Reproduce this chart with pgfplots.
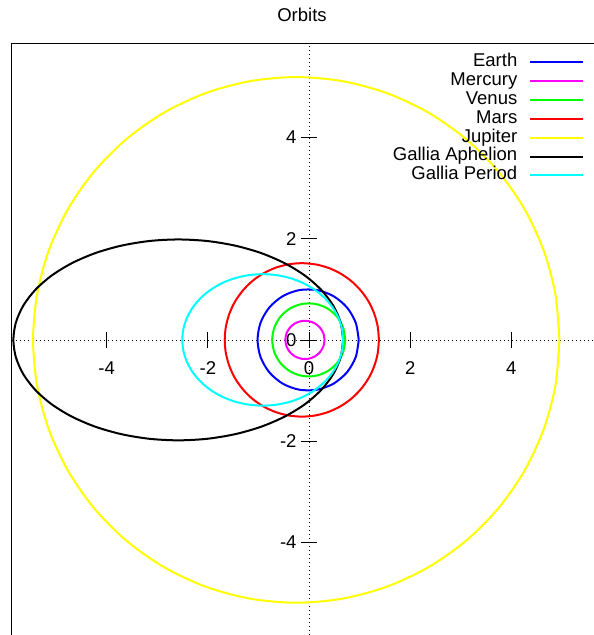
\documentclass[border=0pt]{standalone}
\usepackage{pgfplots}
\pgfplotsset{compat=1.18}
\usepackage{fontspec}
\setmainfont{Liberation Sans}
\definecolor{gpblue}{RGB}{0,0,255}
\definecolor{gpmag}{RGB}{255,0,255}
\definecolor{gpgreen}{RGB}{0,255,0}
\definecolor{gpred}{RGB}{255,0,0}
\definecolor{gpyellow}{RGB}{255,255,0}
\definecolor{gpcyan}{RGB}{0,255,255}
\begin{document}
\begin{tikzpicture}
\useasboundingbox (0,0) rectangle (594bp,635bp);
\begin{axis}[
  at={(11.7bp,0bp)}, anchor=south west,
  scale only axis, width=582.3bp, height=591.7bp,
  xmin=-5.878, xmax=5.635, ymin=-5.835, ymax=5.865,
  axis lines=middle,
  axis line style={black, line width=0.8bp, dash pattern=on 1bp off 3bp, -},
  xtick={-4,-2,0,2,4}, ytick={-4,-2,0,2,4},
  hide obscured x ticks=false, hide obscured y ticks=false,
  tick align=center, major tick length=16bp,
  tick style={black, line width=0.8bp, solid},
  /pgf/number format/assume math mode=true,
  ticklabel style={font=\fontsize{18.5bp}{21bp}\selectfont, inner sep=0pt},
  xticklabel style={anchor=center, yshift=-20.4bp},
  yticklabel style={anchor=east, xshift=-4.3bp},
  clip mode=individual,
  legend style={at={(1,1)}, anchor=north east, xshift=-9.5bp, yshift=-10.5bp,
    draw=none, fill=none, font=\fontsize{18.5bp}{21bp}\selectfont,
    inner sep=0pt, row sep=2.8bp, column sep=12bp,
    nodes={inner sep=0pt, text height=12.5bp, text depth=3.6bp}},
  legend cell align=right,
  legend plot pos=right,
  legend image code/.code={\draw[#1, line width=2bp] (0bp,0bp) -- (53bp,0bp);},
  every axis plot/.append style={line width=2bp, smooth},
]
\addplot[gpblue] coordinates {(0.983,0) (0.923,0.342) (0.749,0.643) (0.483,0.866) (0.157,0.985) (-0.191,0.985) (-0.517,0.866) (-0.783,0.643) (-0.957,0.342) (-1.017,0) (-0.957,-0.342) (-0.783,-0.643) (-0.517,-0.866) (-0.191,-0.985) (0.157,-0.985) (0.483,-0.866) (0.749,-0.643) (0.923,-0.342) (0.983,0)};
\addlegendentry{Earth}
\addplot[gpmag] coordinates {(0.307,0) (0.284,0.130) (0.216,0.244) (0.114,0.328) (-0.013,0.373) (-0.147,0.373) (-0.274,0.328) (-0.376,0.244) (-0.444,0.130) (-0.467,0) (-0.444,-0.130) (-0.376,-0.244) (-0.274,-0.328) (-0.147,-0.373) (-0.013,-0.373) (0.114,-0.328) (0.216,-0.244) (0.284,-0.130) (0.307,0)};
\addlegendentry{Mercury}
\addplot[gpgreen] coordinates {(0.718,0) (0.674,0.247) (0.549,0.465) (0.357,0.626) (0.121,0.712) (-0.131,0.712) (-0.367,0.626) (-0.559,0.465) (-0.684,0.247) (-0.728,0) (-0.684,-0.247) (-0.559,-0.465) (-0.367,-0.626) (-0.131,-0.712) (0.121,-0.712) (0.357,-0.626) (0.549,-0.465) (0.674,-0.247) (0.718,0)};
\addlegendentry{Venus}
\addplot[gpred] coordinates {(1.382,0) (1.359,0.263) (1.290,0.519) (1.178,0.759) (1.025,0.975) (0.838,1.162) (0.620,1.314) (0.379,1.426) (0.123,1.494) (-0.142,1.517) (-0.407,1.494) (-0.663,1.426) (-0.904,1.314) (-1.122,1.162) (-1.309,0.975) (-1.462,0.759) (-1.574,0.519) (-1.643,0.263) (-1.666,0) (-1.643,-0.263) (-1.574,-0.519) (-1.462,-0.759) (-1.309,-0.975) (-1.122,-1.162) (-0.904,-1.314) (-0.663,-1.426) (-0.407,-1.494) (-0.142,-1.517) (0.123,-1.494) (0.379,-1.426) (0.620,-1.314) (0.838,-1.162) (1.025,-0.975) (1.178,-0.759) (1.290,-0.519) (1.359,-0.263) (1.382,0)};
\addlegendentry{Mars}
\addplot[gpyellow] coordinates {(4.951,0) (4.872,0.902) (4.637,1.777) (4.254,2.599) (3.734,3.341) (3.093,3.981) (2.350,4.501) (1.527,4.884) (0.651,5.118) (-0.252,5.197) (-1.155,5.118) (-2.031,4.884) (-2.854,4.501) (-3.597,3.981) (-4.238,3.341) (-4.758,2.599) (-5.141,1.777) (-5.376,0.902) (-5.455,0) (-5.376,-0.902) (-5.141,-1.777) (-4.758,-2.599) (-4.238,-3.341) (-3.597,-3.981) (-2.854,-4.501) (-2.031,-4.884) (-1.155,-5.118) (-0.252,-5.197) (0.651,-5.118) (1.527,-4.884) (2.350,-4.501) (3.093,-3.981) (3.734,-3.341) (4.254,-2.599) (4.637,-1.777) (4.872,-0.902) (4.951,0)};
\addlegendentry{Jupiter}
\addplot[black] coordinates {(0.675,0) (0.625,0.345) (0.478,0.679) (0.238,0.993) (-0.088,1.277) (-0.490,1.521) (-0.955,1.720) (-1.470,1.866) (-2.019,1.956) (-2.585,1.986) (-3.151,1.956) (-3.700,1.866) (-4.215,1.720) (-4.681,1.521) (-5.082,1.277) (-5.408,0.993) (-5.648,0.679) (-5.795,0.345) (-5.845,0) (-5.795,-0.345) (-5.648,-0.679) (-5.408,-0.993) (-5.082,-1.277) (-4.681,-1.521) (-4.215,-1.720) (-3.700,-1.866) (-3.151,-1.956) (-2.585,-1.986) (-2.019,-1.956) (-1.470,-1.866) (-0.955,-1.720) (-0.490,-1.521) (-0.088,-1.277) (0.238,-0.993) (0.478,-0.679) (0.625,-0.345) (0.675,0)};
\addlegendentry{Gallia Aphelion}
\addplot[gpcyan] coordinates {(0.675,0) (0.651,0.226) (0.579,0.445) (0.462,0.650) (0.303,0.836) (0.107,0.996) (-0.120,1.126) (-0.371,1.222) (-0.639,1.280) (-0.915,1.300) (-1.191,1.280) (-1.459,1.222) (-1.710,1.126) (-1.937,0.996) (-2.133,0.836) (-2.292,0.650) (-2.409,0.445) (-2.481,0.226) (-2.505,0) (-2.481,-0.226) (-2.409,-0.445) (-2.292,-0.650) (-2.133,-0.836) (-1.937,-0.996) (-1.710,-1.126) (-1.459,-1.222) (-1.191,-1.280) (-0.915,-1.300) (-0.639,-1.280) (-0.371,-1.222) (-0.120,-1.126) (0.107,-0.996) (0.303,-0.836) (0.462,-0.650) (0.579,-0.445) (0.651,-0.226) (0.675,0)};
\addlegendentry{Gallia Period}
\draw[black, line width=1.2bp] (rel axis cs:0,0) -- (rel axis cs:0,1) -- (rel axis cs:1,1);
\end{axis}
\node[font=\fontsize{18.5bp}{21bp}\selectfont] at (302bp,620bp) {Orbits};
\end{tikzpicture}
\end{document}
